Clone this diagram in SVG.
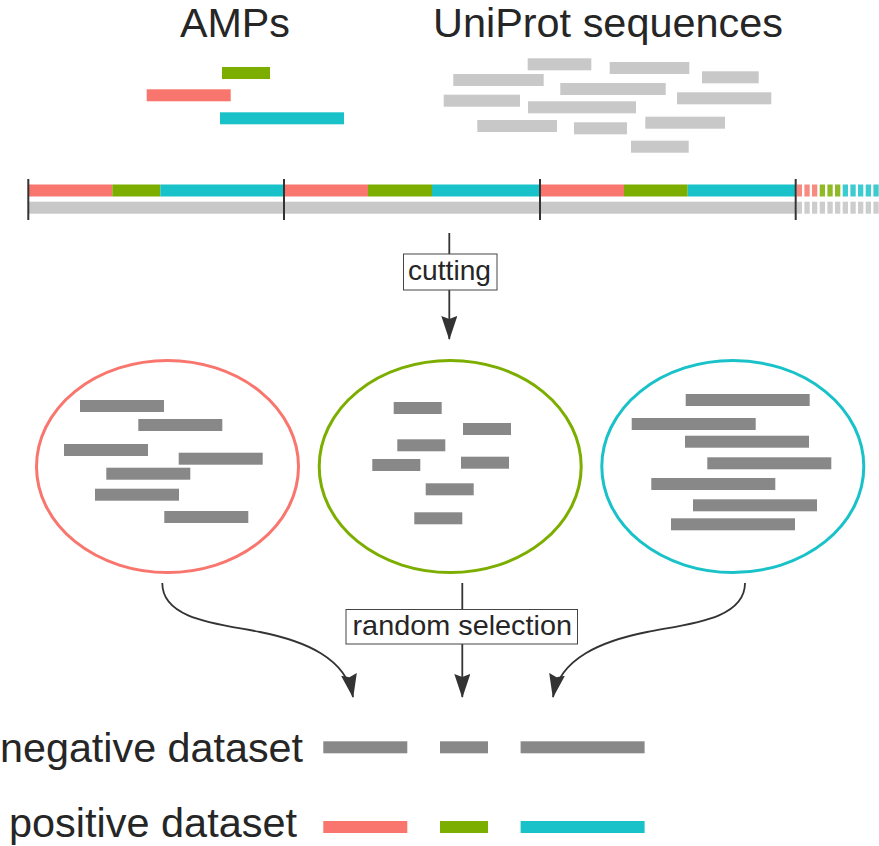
<svg xmlns="http://www.w3.org/2000/svg" width="879" height="846" viewBox="0 0 879 846">
  <style>
    .title { font-family: "Liberation Sans", Arial, sans-serif; font-size: 40px; fill: #262626; }
    .lbl { font-family: "Liberation Sans", Arial, sans-serif; font-size: 28px; fill: #262626; }
    .big { font-family: "Liberation Sans", Arial, sans-serif; font-size: 41px; fill: #262626; }
    .r { fill: #F8766D; }
    .g { fill: #7CAE00; }
    .c { fill: #19C2C8; }
    .lg { fill: #C8C8C8; }
    .dg { fill: #888888; }
    .tick { stroke: #333333; stroke-width: 2; }
    .conn { fill: none; stroke: #333333; stroke-width: 1.8; }
    .box { fill: #ffffff; stroke: #444444; stroke-width: 1; }
  </style>
  <defs>
    <marker id="arrow" markerUnits="userSpaceOnUse" viewBox="0 0 24 16" refX="23" refY="8" markerWidth="24" markerHeight="16" orient="auto">
      <path d="M0,0 L24,8 L0,16 L3,8 Z" fill="#333333"/>
    </marker>
  </defs>

  <g id="title-amps">
    <text class="title" x="180" y="36.5" textLength="110" lengthAdjust="spacingAndGlyphs">AMPs</text>
  </g>
  <g id="title-uniprot">
    <text class="title" x="433" y="36.5" textLength="350" lengthAdjust="spacingAndGlyphs">UniProt sequences</text>
  </g>

  <g id="amp-fragments">
    <rect class="g" x="222" y="67" width="48" height="12"/>
    <rect class="r" x="146.7" y="89.3" width="84" height="12"/>
    <rect class="c" x="220" y="112.3" width="124" height="12"/>
  </g>

  <g id="uniprot-fragments" class="lg">
    <rect x="527.7" y="58.3" width="63.6" height="12"/>
    <rect x="609.7" y="62" width="79.6" height="12"/>
    <rect x="453.3" y="74" width="90.4" height="12"/>
    <rect x="702" y="71.3" width="56.7" height="12"/>
    <rect x="560.3" y="83" width="105.4" height="12"/>
    <rect x="443.7" y="94.7" width="76.3" height="12"/>
    <rect x="677" y="92.3" width="94.3" height="12"/>
    <rect x="528" y="101.3" width="108" height="12"/>
    <rect x="477.3" y="120" width="79.7" height="12"/>
    <rect x="574" y="122.3" width="53" height="12"/>
    <rect x="645.3" y="116.7" width="79.7" height="12"/>
    <rect x="631" y="140.7" width="57.7" height="12"/>
  </g>

  <g id="concatenated-sequences">
    <rect class="r" x="28" y="184.5" width="84.3" height="12"/>
    <rect class="g" x="112.3" y="184.5" width="48" height="12"/>
    <rect class="c" x="160.3" y="184.5" width="123.7" height="12"/>
    <rect class="r" x="284" y="184.5" width="84" height="12"/>
    <rect class="g" x="368" y="184.5" width="64" height="12"/>
    <rect class="c" x="432" y="184.5" width="108" height="12"/>
    <rect class="r" x="540" y="184.5" width="84" height="12"/>
    <rect class="g" x="624" y="184.5" width="63.7" height="12"/>
    <rect class="c" x="687.7" y="184.5" width="108.3" height="12"/>
    <rect class="lg" x="28" y="201.7" width="768" height="12"/>
    <g opacity="0.85">
      <rect class="r" x="796.7" y="184.5" width="5.3" height="12"/>
      <rect class="r" x="804.4" y="184.5" width="5.3" height="12"/>
      <rect class="r" x="812.0" y="184.5" width="5.3" height="12"/>
      <rect class="g" x="819.7" y="184.5" width="5.3" height="12"/>
      <rect class="g" x="827.4" y="184.5" width="5.3" height="12"/>
      <rect class="g" x="835.0" y="184.5" width="5.3" height="12"/>
      <rect class="c" x="842.7" y="184.5" width="5.3" height="12"/>
      <rect class="c" x="850.4" y="184.5" width="5.3" height="12"/>
      <rect class="c" x="858.0" y="184.5" width="5.3" height="12"/>
      <rect class="c" x="865.7" y="184.5" width="5.3" height="12"/>
      <rect class="c" x="873.4" y="184.5" width="5.3" height="12"/>
    </g>
    <g class="lg" opacity="0.9">
      <rect x="796.7" y="201.7" width="5.3" height="12"/>
      <rect x="804.4" y="201.7" width="5.3" height="12"/>
      <rect x="812.0" y="201.7" width="5.3" height="12"/>
      <rect x="819.7" y="201.7" width="5.3" height="12"/>
      <rect x="827.4" y="201.7" width="5.3" height="12"/>
      <rect x="835.0" y="201.7" width="5.3" height="12"/>
      <rect x="842.7" y="201.7" width="5.3" height="12"/>
      <rect x="850.4" y="201.7" width="5.3" height="12"/>
      <rect x="858.0" y="201.7" width="5.3" height="12"/>
      <rect x="865.7" y="201.7" width="5.3" height="12"/>
      <rect x="873.4" y="201.7" width="5.3" height="12"/>
    </g>
    <line class="tick" x1="28.3" y1="179" x2="28.3" y2="220"/>
    <line class="tick" x1="284" y1="179" x2="284" y2="220"/>
    <line class="tick" x1="540" y1="179" x2="540" y2="220"/>
    <line class="tick" x1="795.7" y1="179" x2="795.7" y2="220"/>
  </g>

  <g id="cluster-red">
    <ellipse cx="167.5" cy="466.5" rx="131" ry="106" fill="none" stroke="#F8766D" stroke-width="3"/>
    <g class="dg">
      <rect x="80" y="400" width="84" height="12"/>
      <rect x="138.3" y="419" width="84" height="12"/>
      <rect x="64" y="444" width="84" height="12"/>
      <rect x="178.7" y="452.7" width="84" height="12"/>
      <rect x="106.3" y="467.7" width="84" height="12"/>
      <rect x="95" y="488.7" width="84" height="12"/>
      <rect x="164.3" y="511" width="84" height="12"/>
    </g>
  </g>

  <g id="cluster-green">
    <ellipse cx="450.2" cy="466.5" rx="131" ry="106" fill="none" stroke="#7CAE00" stroke-width="3"/>
    <g class="dg">
      <rect x="393.7" y="402" width="48" height="12"/>
      <rect x="463" y="423" width="48" height="12"/>
      <rect x="397.3" y="439.3" width="48" height="12"/>
      <rect x="372.3" y="459" width="48" height="12"/>
      <rect x="461" y="456.7" width="48" height="12"/>
      <rect x="425.7" y="483.3" width="48" height="12"/>
      <rect x="414.3" y="512.3" width="48" height="12"/>
    </g>
  </g>

  <g id="cluster-cyan">
    <ellipse cx="732.8" cy="466.5" rx="131" ry="106" fill="none" stroke="#19C2C8" stroke-width="3"/>
    <g class="dg">
      <rect x="685.7" y="394" width="124" height="12"/>
      <rect x="631.7" y="418" width="124" height="12"/>
      <rect x="685" y="435.7" width="124" height="12"/>
      <rect x="707.3" y="457.3" width="124" height="12"/>
      <rect x="651.3" y="478" width="124" height="12"/>
      <rect x="693" y="499.3" width="124" height="12"/>
      <rect x="671" y="518.3" width="124" height="12"/>
    </g>
  </g>

  <g id="connectors">
    <path class="conn" d="M449.3,233 L449.3,339" marker-end="url(#arrow)"/>
    <path class="conn" d="M162.3,583 C162,620 220,624 260,632 C305,641 346,658 353,697" marker-end="url(#arrow)"/>
    <path class="conn" d="M462.3,583 L462.3,697" marker-end="url(#arrow)"/>
    <path class="conn" d="M745,583 C745,620 687,624 647,632 C602,641 560,658 553,697" marker-end="url(#arrow)"/>
    <g id="label-cutting">
      <rect class="box" x="403.5" y="254" width="93.5" height="36"/>
      <text class="lbl" x="408" y="280" textLength="83" lengthAdjust="spacingAndGlyphs">cutting</text>
    </g>
    <g id="label-random-selection">
      <rect class="box" x="346" y="609.5" width="231.5" height="34.5"/>
      <text class="lbl" x="352.5" y="635" textLength="219.5" lengthAdjust="spacingAndGlyphs">random selection</text>
    </g>
  </g>

  <g id="negative-dataset">
    <text class="big" x="0" y="761.7" textLength="303" lengthAdjust="spacingAndGlyphs">negative dataset</text>
    <g class="dg">
      <rect x="323.3" y="741.3" width="84" height="12"/>
      <rect x="440" y="741.3" width="48" height="12"/>
      <rect x="520.6" y="741.3" width="124" height="12"/>
    </g>
  </g>

  <g id="positive-dataset">
    <text class="big" x="9" y="836.7" textLength="288" lengthAdjust="spacingAndGlyphs">positive dataset</text>
    <rect class="r" x="323.3" y="821" width="84" height="12"/>
    <rect class="g" x="440" y="821" width="48" height="12"/>
    <rect class="c" x="520.6" y="821" width="124" height="12"/>
  </g>
</svg>
